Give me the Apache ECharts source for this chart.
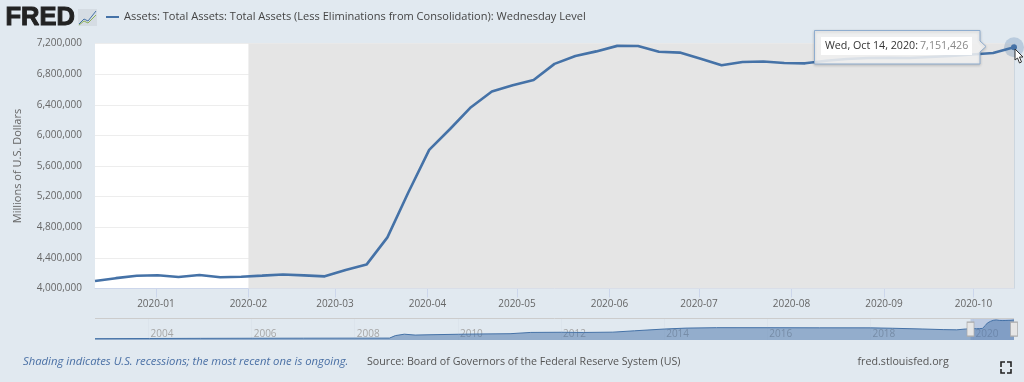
<!DOCTYPE html>
<html><head><meta charset="utf-8">
<style>html,body{margin:0;padding:0;background:#E1E9F0}#c{width:1024px;height:382px}</style>
<script src="https://cdn.jsdelivr.net/npm/echarts@6/dist/echarts.min.js"></script>
</head><body><div id="c"></div>
<script>
const weeklyDates = ['2019-12-11','2019-12-18','2019-12-25','2020-01-01','2020-01-08','2020-01-15','2020-01-22','2020-01-29','2020-02-05','2020-02-12','2020-02-19','2020-02-26','2020-03-04','2020-03-11','2020-03-18','2020-03-25','2020-04-01','2020-04-08','2020-04-15','2020-04-22','2020-04-29','2020-05-06','2020-05-13','2020-05-20','2020-05-27','2020-06-03','2020-06-10','2020-06-17','2020-06-24','2020-07-01','2020-07-08','2020-07-15','2020-07-22','2020-07-29','2020-08-05','2020-08-12','2020-08-19','2020-08-26','2020-09-02','2020-09-09','2020-09-16','2020-09-23','2020-09-30','2020-10-07','2020-10-14'];
const weeklyValues = [4097000,4135000,4166000,4173000,4150000,4176000,4147000,4154000,4168000,4183000,4172000,4159000,4242000,4312000,4668000,5254000,5811000,6083000,6368000,6573000,6656000,6723000,6934000,7036000,7097000,7169000,7168000,7092000,7081000,7002000,6917000,6958000,6964000,6945000,6941000,6975000,6998000,7010000,7014000,7010000,7024000,7037000,7056000,7076000,7151426];
const historyDates = ['2002-12-18','2004-01-07','2005-01-05','2006-01-04','2007-01-03','2008-01-02','2008-09-03','2008-09-17','2008-10-15','2008-12-17','2009-03-04','2009-06-03','2010-01-06','2010-06-02','2011-01-05','2011-06-01','2012-01-04','2012-06-06','2013-01-02','2013-06-05','2014-01-01','2014-06-04','2015-01-07','2016-01-06','2017-01-04','2018-01-03','2018-06-06','2019-01-02','2019-06-05','2019-09-04','2019-11-06'];
const historyValues = [720000,770000,820000,850000,870000,890000,905000,1250000,1770000,2250000,1950000,2050000,2230000,2330000,2420000,2860000,2920000,2850000,2960000,3430000,4030000,4350000,4500000,4490000,4450000,4440000,4300000,4050000,3830000,3760000,4040000];
const monthTicks = ['2020-01-01','2020-02-01','2020-03-01','2020-04-01','2020-05-01','2020-06-01','2020-07-01','2020-08-01','2020-09-01','2020-10-01'];
const yearTicks = ['2004-01-01','2006-01-01','2008-01-01','2010-01-01','2012-01-01','2014-01-01','2016-01-01','2018-01-01','2020-01-01'];
const recessionStart = '2020-02-01';
const seriesName = 'Assets: Total Assets: Total Assets (Less Eliminations from Consolidation): Wednesday Level';
const tipDate = 'Wed, Oct 14, 2020:';
const tipValue = '7,151,426';
const sourceText = 'Source: Board of Governors of the Federal Reserve System (US)';
const noteText = 'Shading indicates U.S. recessions; the most recent one is ongoing.';
const siteText = 'fred.stlouisfed.org';

const t = s => Date.parse(s);
const TICK_SHIFT = 14*3600*1000; // the source draws month marks slightly ahead of its Wednesday points
const tickT = s => t(s)-TICK_SHIFT;
const main = weeklyDates.map((d,i)=>[t(d),weeklyValues[i]]);
const nav = historyDates.map((d,i)=>[t(d),historyValues[i]]).concat(main);
const lastD = main[main.length-1];
const BLUE = '#4572A7';
const FONT = '"Open Sans", sans-serif';

const chart = echarts.init(document.getElementById('c'),null,{renderer:'canvas'});
chart.setOption({
  animation:false, backgroundColor:'#E1E9F0',
  textStyle:{fontFamily:FONT},
  grid:[
    {left:95,right:10,top:43.5,height:245,show:true,backgroundColor:'#fff',borderWidth:0},
    {left:95,right:10,top:318,height:22,show:false}
  ],
  xAxis:[
    {type:'value',gridIndex:0,min:t(weeklyDates[0]),max:lastD[0],scale:true,
     axisLine:{show:true,lineStyle:{color:'#CCD6EB',width:1}},
     axisTick:{show:true,length:9,customValues:monthTicks.map(tickT),lineStyle:{color:'#CCD6EB'}},
     splitLine:{show:false},
     axisLabel:{customValues:monthTicks.map(tickT),margin:10.5,fontSize:10,color:'#666',fontFamily:FONT,hideOverlap:false,
       formatter:v=>new Date(v+TICK_SHIFT).toISOString().slice(0,7)}},
    {type:'value',gridIndex:1,min:t(historyDates[0]),max:lastD[0],scale:true,
     axisLine:{show:false},
     axisTick:{show:true,inside:true,length:22,customValues:yearTicks.map(t),lineStyle:{color:'#DCE4EC'}},
     splitLine:{show:false},
     axisLabel:{customValues:yearTicks.map(t),inside:true,margin:1,align:'left',fontSize:10,color:'#A6A6A6',fontFamily:FONT,hideOverlap:false,
       padding:[0,0,0,2],
       formatter:v=>new Date(v).toISOString().slice(0,4)}}
  ],
  yAxis:[
    {type:'value',gridIndex:0,min:4000000,max:7200000,interval:400000,
     axisLine:{show:false},axisTick:{show:false},
     splitLine:{show:true,lineStyle:{color:'#EDEDED',width:1}},
     axisLabel:{margin:13,fontSize:10,color:'#666',fontFamily:FONT,
       formatter:v=>v.toLocaleString('en-US')},
     name:'Millions of U.S. Dollars',nameLocation:'middle',nameRotate:90,nameGap:72,
     nameTextStyle:{fontSize:11,color:'#666',fontFamily:FONT}},
    {type:'value',gridIndex:1,min:250000,max:7840000,show:false,splitLine:{show:false}}
  ],
  series:[
    {type:'line',name:seriesName,xAxisIndex:0,yAxisIndex:0,data:main,showSymbol:false,symbol:'none',
     lineStyle:{color:BLUE,width:2.6},z:3,
     markArea:{silent:true,itemStyle:{color:'#E5E5E5'},data:[[{xAxis:tickT(recessionStart)},{xAxis:lastD[0]}]]},
     markLine:{silent:true,symbol:'none',label:{show:false},lineStyle:{color:'#CCD6DF',width:1,type:'solid'},data:[{xAxis:lastD[0]}]},
     markPoint:{silent:true,label:{show:false},data:[
       {coord:lastD,symbol:'circle',symbolSize:20,itemStyle:{color:'rgba(69,114,167,0.25)'}},
       {coord:lastD,symbol:'circle',symbolSize:6,itemStyle:{color:BLUE}}]}
    },
    {type:'line',xAxisIndex:1,yAxisIndex:1,data:nav,showSymbol:false,symbol:'none',
     lineStyle:{color:'#4572A7',width:1},areaStyle:{color:'#4572A7',opacity:0.5},z:3,
     markArea:{silent:true,itemStyle:{color:'rgba(102,133,194,0.3)'},data:[[{xAxis:t(weeklyDates[0])},{xAxis:lastD[0]}]]},
     markPoint:{silent:true,label:{show:false},data:[
       {coord:[t(weeklyDates[0]),4000000],symbol:'rect',symbolSize:[7,14],itemStyle:{color:'#E6E6E6',borderColor:'#AAA',borderWidth:1}},
       {coord:[lastD[0],4000000],symbol:'rect',symbolSize:[7,14],itemStyle:{color:'#E6E6E6',borderColor:'#AAA',borderWidth:1}}]}
    }
  ],
  graphic:[
    {type:'line',shape:{x1:95,y1:318.5,x2:1014,y2:318.5},style:{stroke:'#CCCCCC',lineWidth:1},z:5},
    {type:'text',x:5.5,y:4.5,style:{text:'FRED',font:'900 25.5px "Liberation Sans"',fill:'#222',stroke:'#222',lineWidth:1},z:5},
    {type:'rect',shape:{x:78,y:9,width:19,height:17},style:{fill:'#D5DCE3'},z:5},
    {type:'polyline',shape:{points:[[79,24],[84,19],[88,21],[96,11]]},style:{stroke:'#4572A7',fill:'none',lineWidth:1},z:6},
    {type:'polyline',shape:{points:[[79,25],[84,21],[88,23],[96,15]]},style:{stroke:'#8CB05A',fill:'none',lineWidth:1},z:6},
    {type:'line',shape:{x1:106,y1:17,x2:119,y2:17},style:{stroke:BLUE,lineWidth:2},z:5},
    {type:'text',x:124,y:11.5,style:{text:seriesName,font:'11.05px '+FONT,fill:'#444'},z:5},
    {type:'text',x:23,y:356.5,style:{text:noteText,font:'italic 11.3px '+FONT,fill:'#4A70A5'},z:5},
    {type:'text',x:367,y:356.5,style:{text:sourceText,font:'10.7px '+FONT,fill:'#555'},z:5},
    {type:'text',x:857.5,y:356.5,style:{text:siteText,font:'10.7px '+FONT,fill:'#555'},z:5},
    {type:'polyline',shape:{points:[[1001,367],[1001,362],[1005,362]]},style:{stroke:'#222',fill:'none',lineWidth:1.6},z:5},
    {type:'polyline',shape:{points:[[1007,362],[1011,362],[1011,367]]},style:{stroke:'#222',fill:'none',lineWidth:1.6},z:5},
    {type:'polyline',shape:{points:[[1001,369],[1001,373],[1005,373]]},style:{stroke:'#222',fill:'none',lineWidth:1.6},z:5},
    {type:'polyline',shape:{points:[[1007,373],[1011,373],[1011,369]]},style:{stroke:'#222',fill:'none',lineWidth:1.6},z:5},
    {type:'polygon',shape:{points:[[814.5,30.5],[980,30.5],[980,41],[986,46.5],[980,52],[980,64],[814.5,64]]},
      style:{fill:'rgba(247,247,247,0.85)',stroke:'#8FADCF',lineWidth:1,shadowBlur:3,shadowColor:'rgba(0,0,0,0.2)',shadowOffsetY:1},z:20},
    {type:'rect',shape:{x:821,y:37,width:151,height:18},style:{fill:'#fff'},z:21},
    {type:'text',x:825,y:40,style:{text:tipDate,font:'500 10.7px '+FONT,fill:'#333'},z:22},
    {type:'text',x:920,y:40,style:{text:tipValue,font:'10.7px '+FONT,fill:'#888'},z:22},
    {type:'polygon',shape:{points:[[1015,49],[1015,60],[1017.5,58],[1019.5,63],[1021.5,62],[1019.5,57],[1023,57]]},
      style:{fill:'#fff',stroke:'#333',lineWidth:1},z:23}
  ]
});
</script></body></html>
